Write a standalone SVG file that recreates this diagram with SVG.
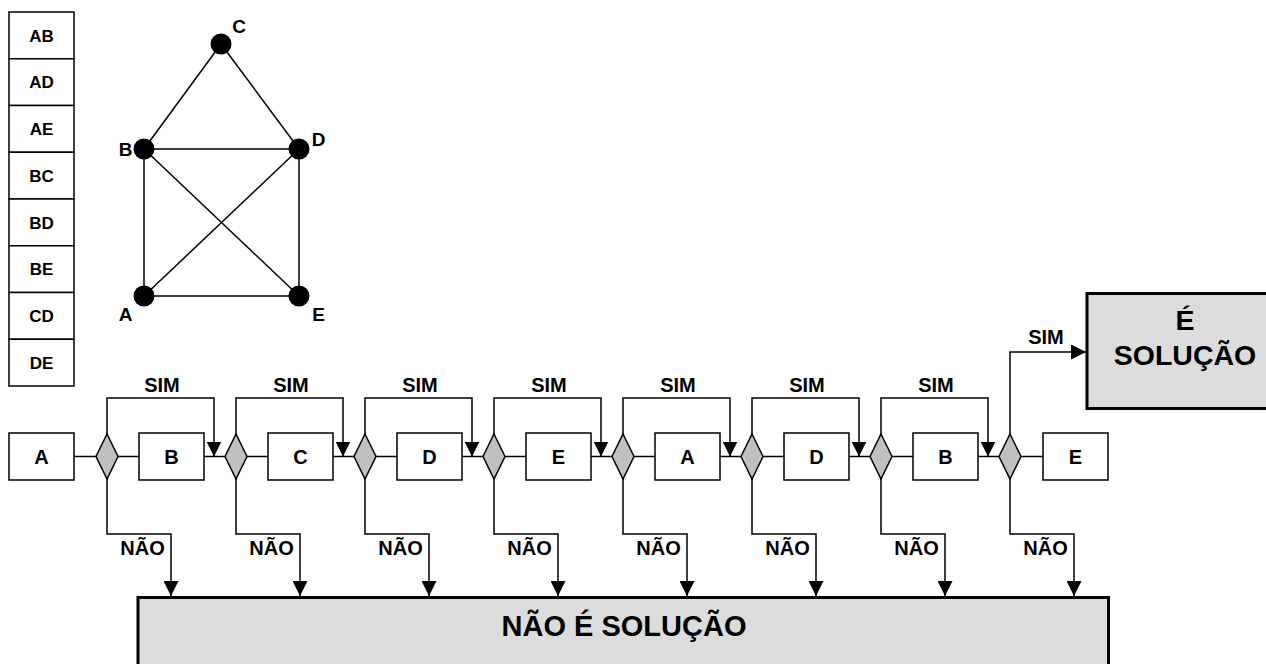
<svg xmlns="http://www.w3.org/2000/svg" width="1266" height="664" viewBox="0 0 1266 664">
<style>
text{font-family:"Liberation Sans",Arial,sans-serif;font-weight:bold;fill:#000;text-anchor:middle}
.cell{fill:#fff;stroke:#000;stroke-width:1.5}
.box{fill:#fff;stroke:#000;stroke-width:1.5}
.dia{fill:#c0c0c0;stroke:#000;stroke-width:1.5}
.big{fill:#dcdcdc;stroke:#000;stroke-width:3}
.ln{fill:none;stroke:#000;stroke-width:1.5}
.edge{stroke:#000;stroke-width:1.5}
.t17{font-size:17px}.t19{font-size:19px}.t20{font-size:20px}.t28{font-size:28.5px}.t29{font-size:29px}
</style>
<defs>
<marker id="arrL" viewBox="0 0 10 10" refX="10" refY="5" markerWidth="15" markerHeight="15" markerUnits="userSpaceOnUse" orient="auto">
<path d="M0,0 L10,5 L0,10 Z" fill="#000"/>
</marker>
<path id="d" d="M0,-22.5 L11,0 L0,22.5 L-11,0 Z"/>
</defs>

<g id="edge-table">
<rect class="cell" x="9" y="12" width="65" height="46.75"/>
<rect class="cell" x="9" y="58.75" width="65" height="46.75"/>
<rect class="cell" x="9" y="105.5" width="65" height="46.75"/>
<rect class="cell" x="9" y="152.25" width="65" height="46.75"/>
<rect class="cell" x="9" y="199" width="65" height="46.75"/>
<rect class="cell" x="9" y="245.75" width="65" height="46.75"/>
<rect class="cell" x="9" y="292.5" width="65" height="46.75"/>
<rect class="cell" x="9" y="339.25" width="65" height="46.75"/>
<text class="t17" x="41.5" y="41.5">AB</text>
<text class="t17" x="41.5" y="88.2">AD</text>
<text class="t17" x="41.5" y="135">AE</text>
<text class="t17" x="41.5" y="181.7">BC</text>
<text class="t17" x="41.5" y="228.5">BD</text>
<text class="t17" x="41.5" y="275.2">BE</text>
<text class="t17" x="41.5" y="322">CD</text>
<text class="t17" x="41.5" y="368.7">DE</text>
</g>

<g id="graph-edges">
<line class="edge" x1="144" y1="296" x2="144" y2="149"/>
<line class="edge" x1="144" y1="296" x2="299" y2="149"/>
<line class="edge" x1="144" y1="296" x2="299" y2="296"/>
<line class="edge" x1="144" y1="149" x2="221" y2="44"/>
<line class="edge" x1="144" y1="149" x2="299" y2="149"/>
<line class="edge" x1="144" y1="149" x2="299" y2="296"/>
<line class="edge" x1="221" y1="44" x2="299" y2="149"/>
<line class="edge" x1="299" y1="149" x2="299" y2="296"/>
</g>
<g id="vA"><circle cx="144" cy="296" r="10.5"/><text class="t19" x="125.5" y="321">A</text></g>
<g id="vB"><circle cx="144" cy="149" r="10.5"/><text class="t19" x="125.5" y="156">B</text></g>
<g id="vC"><circle cx="221" cy="44" r="10.5"/><text class="t19" x="239" y="33">C</text></g>
<g id="vD"><circle cx="299" cy="149" r="10.5"/><text class="t19" x="318.5" y="146">D</text></g>
<g id="vE"><circle cx="299" cy="296" r="10.5"/><text class="t19" x="318.5" y="321">E</text></g>

<g id="connectors">
<path class="ln" d="M74,456.5 H96 M118,456.5 H139 M204,456.5 H225 M247,456.5 H268 M333,456.5 H354 M376,456.5 H397 M462,456.5 H483 M505,456.5 H526 M591,456.5 H612 M634,456.5 H655 M720,456.5 H741 M763,456.5 H784 M849,456.5 H870 M892,456.5 H913 M978,456.5 H999 M1021,456.5 H1043"/>
<path class="ln" marker-end="url(#arrL)" d="M107,434 V398 H214 V456.5"/>
<path class="ln" marker-end="url(#arrL)" d="M236,434 V398 H343 V456.5"/>
<path class="ln" marker-end="url(#arrL)" d="M365,434 V398 H472 V456.5"/>
<path class="ln" marker-end="url(#arrL)" d="M494,434 V398 H601 V456.5"/>
<path class="ln" marker-end="url(#arrL)" d="M623,434 V398 H730 V456.5"/>
<path class="ln" marker-end="url(#arrL)" d="M752,434 V398 H859 V456.5"/>
<path class="ln" marker-end="url(#arrL)" d="M881,434 V398 H988 V456.5"/>
<path class="ln" marker-end="url(#arrL)" d="M1010,434 V352 H1086"/>
<path class="ln" marker-end="url(#arrL)" d="M107,479 V534 H171 V596"/>
<path class="ln" marker-end="url(#arrL)" d="M236,479 V534 H300 V596"/>
<path class="ln" marker-end="url(#arrL)" d="M365,479 V534 H429 V596"/>
<path class="ln" marker-end="url(#arrL)" d="M494,479 V534 H558 V596"/>
<path class="ln" marker-end="url(#arrL)" d="M623,479 V534 H687 V596"/>
<path class="ln" marker-end="url(#arrL)" d="M752,479 V534 H816 V596"/>
<path class="ln" marker-end="url(#arrL)" d="M881,479 V534 H945 V596"/>
<path class="ln" marker-end="url(#arrL)" d="M1010,479 V534 H1074 V596"/>
<g class="t20">
<text x="162" y="392">SIM</text>
<text x="291" y="392">SIM</text>
<text x="420" y="392">SIM</text>
<text x="549" y="392">SIM</text>
<text x="678" y="392">SIM</text>
<text x="807" y="392">SIM</text>
<text x="936" y="392">SIM</text>
<text x="1046" y="344">SIM</text>
<text x="142.5" y="555">NÃO</text>
<text x="271.5" y="555">NÃO</text>
<text x="400.5" y="555">NÃO</text>
<text x="529.5" y="555">NÃO</text>
<text x="658.5" y="555">NÃO</text>
<text x="787.5" y="555">NÃO</text>
<text x="916.5" y="555">NÃO</text>
<text x="1045.5" y="555">NÃO</text>
</g>
</g>

<g id="n-A1"><rect class="box" x="9" y="433" width="65" height="47"/><text class="t20" x="41.5" y="463.5">A</text></g>
<g id="dec1"><use href="#d" class="dia" x="107" y="456.5"/></g>
<g id="n-B1"><rect class="box" x="139" y="433" width="65" height="47"/><text class="t20" x="171.5" y="463.5">B</text></g>
<g id="dec2"><use href="#d" class="dia" x="236" y="456.5"/></g>
<g id="n-C1"><rect class="box" x="268" y="433" width="65" height="47"/><text class="t20" x="300.5" y="463.5">C</text></g>
<g id="dec3"><use href="#d" class="dia" x="365" y="456.5"/></g>
<g id="n-D1"><rect class="box" x="397" y="433" width="65" height="47"/><text class="t20" x="429.5" y="463.5">D</text></g>
<g id="dec4"><use href="#d" class="dia" x="494" y="456.5"/></g>
<g id="n-E1"><rect class="box" x="526" y="433" width="65" height="47"/><text class="t20" x="558.5" y="463.5">E</text></g>
<g id="dec5"><use href="#d" class="dia" x="623" y="456.5"/></g>
<g id="n-A2"><rect class="box" x="655" y="433" width="65" height="47"/><text class="t20" x="687.5" y="463.5">A</text></g>
<g id="dec6"><use href="#d" class="dia" x="752" y="456.5"/></g>
<g id="n-D2"><rect class="box" x="784" y="433" width="65" height="47"/><text class="t20" x="816.5" y="463.5">D</text></g>
<g id="dec7"><use href="#d" class="dia" x="881" y="456.5"/></g>
<g id="n-B2"><rect class="box" x="913" y="433" width="65" height="47"/><text class="t20" x="945.5" y="463.5">B</text></g>
<g id="dec8"><use href="#d" class="dia" x="1010" y="456.5"/></g>
<g id="n-E2"><rect class="box" x="1043" y="433" width="65" height="47"/><text class="t20" x="1075.5" y="463.5">E</text></g>

<g id="solucao"><rect class="big" x="1087" y="293.5" width="200" height="115"/><text class="t28" x="1185" y="330">É</text><text class="t28" x="1185" y="365">SOLUÇÃO</text></g>
<g id="nao-solucao"><rect class="big" x="138" y="597.5" width="970.5" height="80"/><text class="t29" x="624" y="635.5">NÃO É SOLUÇÃO</text></g>
</svg>
